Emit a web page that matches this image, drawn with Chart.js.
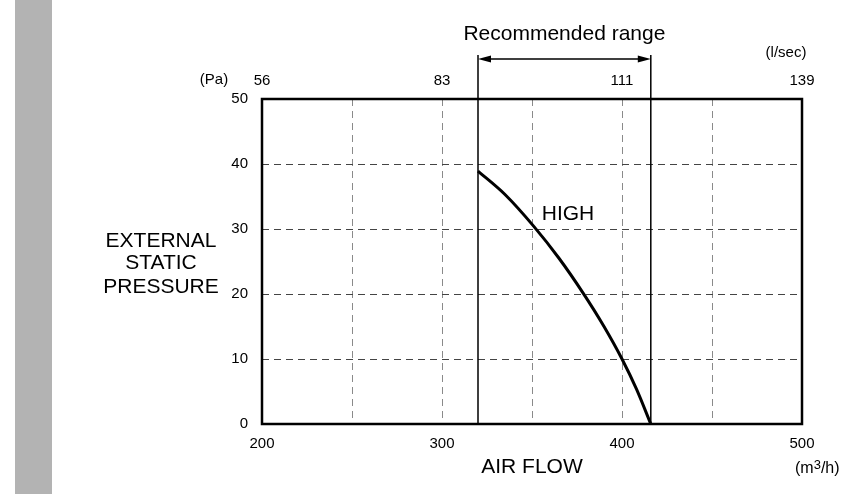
<!DOCTYPE html>
<html>
<head>
<meta charset="utf-8">
<script src="https://cdn.jsdelivr.net/npm/chart.js@4/dist/chart.umd.min.js"></script>
<style>
  body { margin: 0; background: #fff; }
  canvas { display: block; }
</style>
</head>
<body>
<canvas id="mycanvas" width="846" height="494"></canvas>
<script>
// air flow (m3/h) vs external static pressure (Pa), HIGH fan speed
var airFlow = [320, 335, 351, 365, 378.5, 390, 400, 408, 416];
var pressure = [38.9, 35.3, 30.4, 25.5, 20.1, 15, 10, 5.4, 0];
var flowTicks = [200, 300, 400, 500];
var rangeLow = 320;
var rangeHigh = 416;

var FONT = '"Liberation Sans", Arial, sans-serif';

var points = [];
for (var i in airFlow) {
  points.push({x: airFlow[i], y: pressure[i]});
}

var extras = {
  id: 'extras',
  beforeDraw: function(chart) {
    var ctx = chart.ctx;
    ctx.save();
    ctx.fillStyle = '#fff';
    ctx.fillRect(0, 0, chart.width, chart.height);
    ctx.fillStyle = '#b3b3b3';
    ctx.fillRect(15, 0, 37, chart.height);
    ctx.restore();
  },
  afterDraw: function(chart) {
    var ctx = chart.ctx;
    var a = chart.chartArea;
    var x = chart.scales.x, y = chart.scales.y;
    ctx.save();
    // frame
    ctx.strokeStyle = '#000';
    ctx.lineWidth = 2.5;
    ctx.strokeRect(a.left, a.top, a.right - a.left, a.bottom - a.top);

    // recommended range lines + arrow
    var x1 = x.getPixelForValue(rangeLow), x2 = x.getPixelForValue(rangeHigh);
    ctx.lineWidth = 1.5;
    ctx.beginPath();
    ctx.moveTo(x1, 55); ctx.lineTo(x1, a.bottom);
    ctx.moveTo(x2, 55); ctx.lineTo(x2, a.bottom);
    ctx.moveTo(x1 + 4, 59); ctx.lineTo(x2 - 4, 59);
    ctx.stroke();
    ctx.fillStyle = '#000';
    ctx.beginPath();
    ctx.moveTo(x1, 59); ctx.lineTo(x1 + 13, 55.5); ctx.lineTo(x1 + 13, 62.5); ctx.closePath();
    ctx.moveTo(x2, 59); ctx.lineTo(x2 - 13, 55.5); ctx.lineTo(x2 - 13, 62.5); ctx.closePath();
    ctx.fill();

    ctx.textAlign = 'center';
    ctx.textBaseline = 'middle';
    ctx.font = '21px ' + FONT;
    ctx.fillText('Recommended range', (x1 + x2) / 2, 34);
    ctx.fillText('AIR FLOW', (a.left + a.right) / 2, 467);
    ctx.fillText('EXTERNAL', 161, 241);
    ctx.fillText('STATIC', 161, 263);
    ctx.fillText('PRESSURE', 161, 287);
    ctx.fillText('HIGH', x.getPixelForValue(370), y.getPixelForValue(32.2));

    ctx.font = '15px ' + FONT;
    ctx.fillText('(l/sec)', 786, 53);
    ctx.fillText('(Pa)', 214, 80);
    // (m3/h) with superscript
    ctx.textAlign = 'left';
    ctx.font = '16px ' + FONT;
    var sx = 795;
    ctx.fillText('(m', sx, 469);
    sx += ctx.measureText('(m').width;
    ctx.font = '13px ' + FONT;
    ctx.fillText('3', sx, 465);
    sx += ctx.measureText('3').width;
    ctx.font = '16px ' + FONT;
    ctx.fillText('/h)', sx, 469);
    ctx.restore();
  }
};

var ctx = document.getElementById('mycanvas');

var chart = new Chart(ctx, {
  type: 'line',
  data: {
    datasets: [{
      label: 'HIGH',
      data: points,
      borderColor: '#000',
      borderWidth: 3,
      pointRadius: 0,
      fill: false,
      cubicInterpolationMode: 'monotone'
    }]
  },
  options: {
    responsive: false,
    animation: false,
    layout: { padding: { left: 0, right: 44, top: 0, bottom: 0 } },
    plugins: { legend: { display: false }, tooltip: { enabled: false } },
    scales: {
      x: {
        type: 'linear', position: 'bottom', min: 200, max: 500,
        afterFit: function(s) { s.height = 70; },
        afterBuildTicks: function(s) {
          s.ticks = [200, 250, 300, 350, 400, 450, 500].map(function(v) { return {value: v}; });
        },
        ticks: {
          autoSkip: false, maxRotation: 0, padding: 11, color: '#000',
          font: { family: FONT, size: 15 },
          callback: function(v) { return flowTicks.indexOf(v) >= 0 ? v : ''; }
        },
        grid: { color: '#8a8a8a', lineWidth: 1, drawTicks: false },
        border: { display: false, dash: [7, 5] }
      },
      x2: {
        type: 'linear', position: 'top', min: 200, max: 500,
        afterFit: function(s) { s.height = 99; },
        afterBuildTicks: function(s) {
          s.ticks = flowTicks.map(function(v) { return {value: v}; });
        },
        ticks: {
          autoSkip: false, maxRotation: 0, padding: 9, color: '#000',
          font: { family: FONT, size: 15 },
          callback: function(v) { return Math.round(v / 3.6); }
        },
        grid: { display: false, drawTicks: false },
        border: { display: false }
      },
      y: {
        type: 'linear', min: 0, max: 50,
        afterFit: function(s) { s.width = 262; },
        ticks: {
          stepSize: 10, padding: 14, color: '#000',
          font: { family: FONT, size: 15 }
        },
        grid: { color: '#444', lineWidth: 1, drawTicks: false },
        border: { display: false, dash: [7, 5] }
      }
    }
  },
  plugins: [extras]
});
</script>
</body>
</html>
